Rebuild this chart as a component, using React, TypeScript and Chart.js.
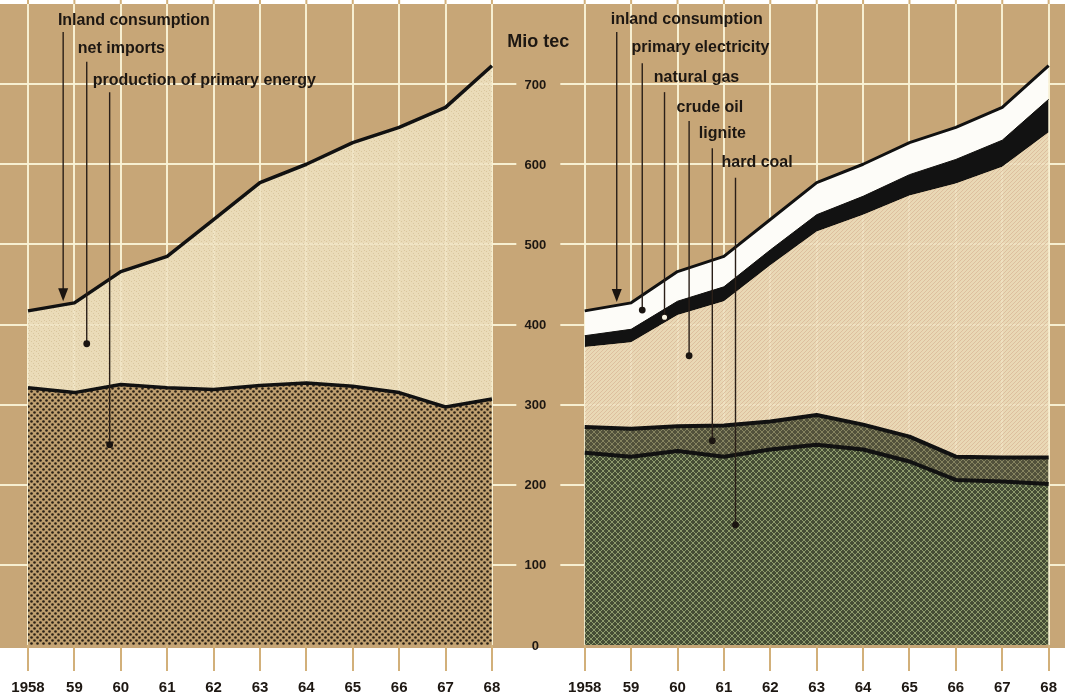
import React, { useEffect, useRef } from 'react';
import { Chart, registerables } from 'chart.js';

Chart.register(...registerables);

// ---------- data (Mio tec) ----------
const years = ['1958', '59', '60', '61', '62', '63', '64', '65', '66', '67', '68'];

// left panel
const inlandConsumption = [417, 427, 466, 485, 531, 577, 600, 627, 646, 671, 723];
const primaryEnergyProduction = [321, 315, 325, 321, 319, 324, 327, 323, 315, 297, 307];

// right panel (stacked from the bottom)
const hardCoal = [240, 235, 242, 235, 244, 250, 244, 229, 206, 204, 201];
const lignite = [32, 35, 31, 39, 35, 37, 31, 31, 29, 30, 33];
const crudeOil = [100, 108, 139, 155, 195, 229, 262, 301, 341, 363, 406];
const naturalGas = [14, 16, 17, 18, 19, 21, 23, 26, 30, 33, 41];
const primaryElectricity = [31, 33, 37, 38, 38, 40, 40, 40, 40, 41, 42];

const yTickValues = [0, 100, 200, 300, 400, 500, 600, 700];
const yUnit = 'Mio tec';

// annotations: text anchor (x index, value), leader x, leader top / bottom value
type Note = { text: string; tx: number; ty: number; lx: number; ly0: number; ly1: number; end: 'arrow' | 'dot' | 'ring' };
const notes: Note[] = [
  { text: 'Inland consumption', tx: 0.644, ty: 779, lx: 0.758, ly0: 765, ly1: 429, end: 'arrow' },
  { text: 'net imports', tx: 1.073, ty: 744, lx: 1.266, ly0: 728, ly1: 376, end: 'dot' },
  { text: 'production of primary energy', tx: 1.395, ty: 705, lx: 1.76, ly0: 690, ly1: 250, end: 'dot' },
  { text: 'inland consumption', tx: 12.56, ty: 781, lx: 12.69, ly0: 765, ly1: 428, end: 'arrow' },
  { text: 'primary electricity', tx: 13.01, ty: 745, lx: 13.24, ly0: 726, ly1: 418, end: 'dot' },
  { text: 'natural gas', tx: 13.49, ty: 708, lx: 13.72, ly0: 690, ly1: 409, end: 'ring' },
  { text: 'crude oil', tx: 13.98, ty: 671, lx: 14.25, ly0: 654, ly1: 361, end: 'dot' },
  { text: 'lignite', tx: 14.46, ty: 638, lx: 14.75, ly0: 620, ly1: 255, end: 'dot' },
  { text: 'hard coal', tx: 14.95, ty: 602, lx: 15.25, ly0: 583, ly1: 150, end: 'dot' },
];

// ---------- styles ----------
const TAN = '#c7a677';
const GRID = 'rgba(250,242,214,0.95)';
const TICK = '#d2b07a';
const INK = '#1d1712';
const SANS = "'Liberation Sans', Arial, Helvetica, sans-serif";
const GAP_INDEX = years.length; // empty slot between the two panels

export default function App() {
  const ref = useRef<HTMLCanvasElement>(null);

  useEffect(() => {
    const canvas = ref.current!;
    const ctx = canvas.getContext('2d')!;

    const tile = (w: number, h: number, draw: (g: CanvasRenderingContext2D) => void) => {
      const c = document.createElement('canvas');
      c.width = w;
      c.height = h;
      const g = c.getContext('2d')!;
      draw(g);
      return ctx.createPattern(c, 'repeat')!;
    };
    const dot = (g: CanvasRenderingContext2D, x: number, y: number, r: number) => {
      g.beginPath();
      g.arc(x, y, r, 0, Math.PI * 2);
      g.fill();
    };

    const productionFill = tile(6, 6, (g) => {
      g.fillStyle = 'rgba(190,158,110,0.9)';
      g.fillRect(0, 0, 6, 6);
      g.fillStyle = '#2a2016';
      dot(g, 1.5, 1.5, 1.3);
      dot(g, 4.5, 4.5, 1.3);
    });
    const importsFill = tile(5, 5, (g) => {
      g.fillStyle = 'rgba(239,227,194,0.88)';
      g.fillRect(0, 0, 5, 5);
      g.fillStyle = 'rgba(214,196,156,0.9)';
      g.fillRect(1, 1, 1, 1);
      g.fillRect(3, 3, 1, 1);
      g.fillRect(4, 0, 1, 1);
    });
    const crudeFill = tile(4, 4, (g) => {
      g.fillStyle = 'rgba(238,223,190,0.88)';
      g.fillRect(0, 0, 4, 4);
      g.fillStyle = 'rgba(218,188,156,0.9)';
      g.fillRect(0, 0, 1, 1);
      g.fillRect(2, 2, 1, 1);
      g.fillRect(1, 3, 1, 1);
      g.fillRect(3, 1, 1, 1);
    });
    const hatch = (base: string, line: string) =>
      tile(6, 6, (g) => {
        g.fillStyle = base;
        g.fillRect(0, 0, 6, 6);
        g.strokeStyle = line;
        g.lineWidth = 1;
        g.beginPath();
        g.moveTo(-1, -1); g.lineTo(7, 7);
        g.moveTo(-1, 7); g.lineTo(7, -1);
        g.stroke();
      });
    const hardCoalFill = hatch('rgba(62,72,50,0.95)', 'rgba(160,175,122,0.8)');
    const ligniteFill = hatch('rgba(76,76,56,0.95)', 'rgba(150,148,108,0.75)');

    const gap = years.map(() => null);
    const leftData = (a: number[]) => [...a, null, ...gap];
    const rightData = (a: number[]) => [...gap, null, ...a];
    const xLabels = [...years, '', ...years];

    const base = {
      pointRadius: 0,
      pointHoverRadius: 0,
      tension: 0,
      borderJoinStyle: 'round' as const,
      borderCapStyle: 'butt' as const,
      spanGaps: false,
    };

    const backgroundPlugin = {
      id: 'paper',
      beforeDraw(chart: any) {
        const { ctx: c, chartArea, width, height, scales } = chart;
        c.save();
        c.fillStyle = '#ffffff';
        c.fillRect(0, 0, width, height);
        c.fillStyle = TAN;
        c.fillRect(0, chartArea.top, width, chartArea.bottom + 3 - chartArea.top);
        c.strokeStyle = TICK;
        c.lineWidth = 2;
        xLabels.forEach((_, i) => {
          if (i === GAP_INDEX) return;
          const x = scales.x.getPixelForValue(i);
          c.beginPath();
          c.moveTo(x, 0);
          c.lineTo(x, chartArea.top);
          c.stroke();
        });
        c.restore();
      },
      beforeDatasetsDraw(chart: any) {
        const { ctx: c, width, scales } = chart;
        const mid = scales.x.getPixelForValue(GAP_INDEX);
        c.save();
        c.strokeStyle = GRID;
        c.lineWidth = 2;
        yTickValues.forEach((v) => {
          if (v === 0) return;
          const y = Math.round(scales.y.getPixelForValue(v));
          c.beginPath();
          c.moveTo(0, y);
          c.lineTo(mid - 22, y);
          c.moveTo(mid + 22, y);
          c.lineTo(width, y);
          c.stroke();
        });
        c.restore();
      },
      afterDatasetsDraw(chart: any) {
        const { ctx: c, scales } = chart;
        const xs = scales.x;
        const ys = scales.y;
        const mid = xs.getPixelForValue(GAP_INDEX);
        c.save();
        c.fillStyle = INK;
        c.textAlign = 'center';
        c.textBaseline = 'middle';
        c.font = `bold 13px ${SANS}`;
        yTickValues.forEach((v) => {
          c.fillText(String(v), mid - 3, ys.getPixelForValue(v) + 1);
        });
        c.font = `bold 18px ${SANS}`;
        c.fillText(yUnit, mid, ys.getPixelForValue(753));

        notes.forEach((n) => {
          const tx = xs.getPixelForValue(n.tx);
          const ty = ys.getPixelForValue(n.ty);
          const lx = xs.getPixelForValue(n.lx);
          const y0 = ys.getPixelForValue(n.ly0);
          const y1 = ys.getPixelForValue(n.ly1);
          c.font = `bold 16px ${SANS}`;
          c.textAlign = 'left';
          c.textBaseline = 'middle';
          c.fillStyle = INK;
          c.fillText(n.text, tx, ty);
          c.strokeStyle = '#2a1f18';
          c.lineWidth = 1.4;
          c.beginPath();
          c.moveTo(lx, y0);
          c.lineTo(lx, n.end === 'arrow' ? y1 - 8 : y1);
          c.stroke();
          if (n.end === 'arrow') {
            c.fillStyle = '#1a1410';
            c.beginPath();
            c.moveTo(lx, y1);
            c.lineTo(lx - 5, y1 - 13);
            c.lineTo(lx + 5, y1 - 13);
            c.closePath();
            c.fill();
          } else if (n.end === 'dot') {
            c.fillStyle = '#1a1410';
            c.beginPath();
            c.arc(lx, y1, 3.4, 0, Math.PI * 2);
            c.fill();
          } else {
            c.fillStyle = '#fbf6e4';
            c.strokeStyle = '#1a1410';
            c.lineWidth = 1.3;
            c.beginPath();
            c.arc(lx, y1, 3.2, 0, Math.PI * 2);
            c.fill();
            c.stroke();
          }
        });
        c.restore();
      },
    };

    const chart = new Chart(canvas, {
      type: 'line',
      data: {
        labels: xLabels,
        datasets: [
          {
            ...base,
            label: 'production of primary energy',
            data: leftData(primaryEnergyProduction),
            stack: 'left-production',
            borderColor: '#111',
            borderWidth: 3.5,
            backgroundColor: productionFill,
            fill: 'origin',
          },
          {
            ...base,
            label: 'inland consumption',
            data: leftData(inlandConsumption),
            stack: 'left-consumption',
            borderColor: '#111',
            borderWidth: 3.5,
            backgroundColor: importsFill,
            fill: '-1',
          },
          {
            ...base,
            label: 'hard coal',
            data: rightData(hardCoal),
            stack: 'right',
            borderColor: '#111',
            borderWidth: 4,
            backgroundColor: hardCoalFill,
            fill: 'origin',
          },
          {
            ...base,
            label: 'lignite',
            data: rightData(lignite),
            stack: 'right',
            borderColor: '#111',
            borderWidth: 4,
            backgroundColor: ligniteFill,
            fill: '-1',
          },
          {
            ...base,
            label: 'crude oil',
            data: rightData(crudeOil),
            stack: 'right',
            borderColor: 'rgba(0,0,0,0)',
            borderWidth: 1,
            backgroundColor: crudeFill,
            fill: '-1',
          },
          {
            ...base,
            label: 'natural gas',
            data: rightData(naturalGas),
            stack: 'right',
            borderColor: '#121212',
            borderWidth: 1,
            backgroundColor: '#121212',
            fill: '-1',
          },
          {
            ...base,
            label: 'primary electricity',
            data: rightData(primaryElectricity),
            stack: 'right',
            borderColor: '#111',
            borderWidth: 3,
            backgroundColor: '#fdfcf8',
            fill: '-1',
          },
        ],
      },
      options: {
        responsive: false,
        animation: false,
        devicePixelRatio: 1,
        events: [],
        layout: { padding: { left: 28, right: 12, top: 4, bottom: 0 } },
        plugins: {
          legend: { display: false },
          tooltip: { enabled: false },
          title: { display: false },
        },
        scales: {
          x: {
            type: 'category',
            offset: false,
            border: { display: false },
            grid: {
              offset: false,
              drawOnChartArea: true,
              lineWidth: 2,
              tickLength: 26,
              color: (c: any) => (c.index === GAP_INDEX ? 'rgba(0,0,0,0)' : GRID),
              tickColor: (c: any) => (c.index === GAP_INDEX ? 'rgba(0,0,0,0)' : TICK),
            },
            ticks: {
              autoSkip: false,
              maxRotation: 0,
              minRotation: 0,
              padding: 8,
              color: INK,
              font: { family: SANS, size: 15, weight: 'bold' },
            },
            afterFit: (s: any) => {
              s.height = 52;
            },
          },
          y: {
            display: false,
            stacked: true,
            min: 0,
            max: 800,
          },
        },
      },
      plugins: [backgroundPlugin],
    } as any);

    return () => chart.destroy();
  }, []);

  return (
    <div style={{ position: 'fixed', left: 0, top: 0, width: 1065, height: 697, background: '#fff' }}>
      <canvas ref={ref} width={1065} height={697} style={{ display: 'block', width: 1065, height: 697 }} />
    </div>
  );
}
